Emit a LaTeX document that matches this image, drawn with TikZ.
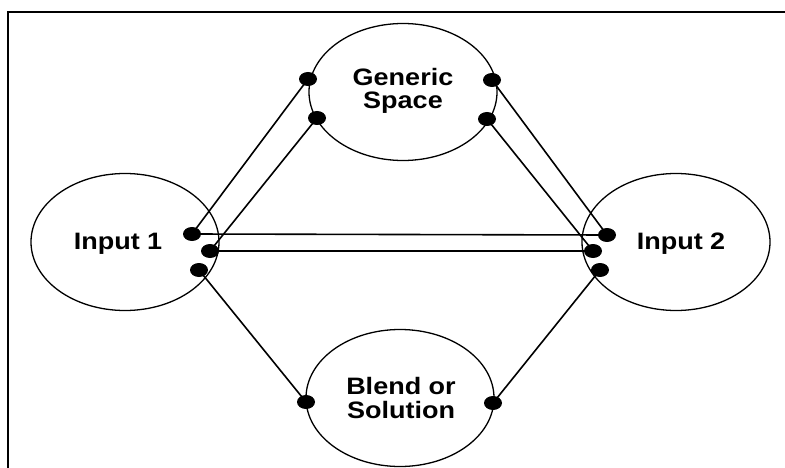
\documentclass[tikz,border=0pt]{standalone}
\usepackage{fontspec}
\setmainfont{Liberation Sans}
\usetikzlibrary{shapes.geometric}
\newcommand{\blocktext}[1]{\scalebox{1}[0.88]{\begin{tabular}{@{}c@{}}#1\end{tabular}}}
\tikzset{
  space/.style={ellipse, draw, line width=1.3pt, inner sep=0pt,
                minimum width=188pt, minimum height=137pt},
  caption/.style={inner sep=0pt, font=\fontsize{27}{24}\selectfont\bfseries},
  port/.style={ellipse, fill=black, inner sep=0pt,
               minimum width=18pt, minimum height=14pt},
  link/.style={line width=1.6pt},
  frame/.style={line width=2.2pt}
}
\begin{document}
\begin{tikzpicture}[x=1pt, y=-1pt]
  \useasboundingbox (0,0) rectangle (785,468);
  \fill[white] (0,0) rectangle (785,468);

  % outer frame (open to the right and bottom)
  \coordinate (fb) at (8,470);
  \coordinate (fc) at (8,12);
  \coordinate (fr) at (787,12);
  \draw[frame] (fb) -- (fc) -- (fr);

  % the four mental spaces
  \node[space] (gen) at (403,92) {};
  \node[space] (in1) at (125,242) {};
  \node[space] (in2) at (676,242) {};
  \node[space] (bld) at (400,398) {};

  \node[caption] (genT) at (403,92) {\blocktext{Generic\\Space}};
  \node[caption] (in1T) at (118,244.4) {\blocktext{Input 1}};
  \node[caption] (in2T) at (681,244.4) {\blocktext{Input 2}};
  \node[caption] (bldT) at (401,401) {\blocktext{Blend or\\Solution}};

  % connection ports
  \node[port] (g1) at (308,79) {};
  \node[port] (g2) at (317,118) {};
  \node[port] (g3) at (492,80) {};
  \node[port] (g4) at (487,119) {};
  \node[port] (a1) at (192,234) {};
  \node[port] (a2) at (210,251) {};
  \node[port] (a3) at (199,270) {};
  \node[port] (b1) at (607,235) {};
  \node[port] (b2) at (593,251) {};
  \node[port] (b3) at (600,270) {};
  \node[port] (s1) at (306,402) {};
  \node[port] (s2) at (493,403) {};

  % cross-space mappings
  \draw[link] (a1.center) -- (g1.center);
  \draw[link] (a2.center) -- (g2.center);
  \draw[link] (g3.center) -- (b1.center);
  \draw[link] (g4.center) -- (b2.center);
  \draw[link] (a1.center) -- (b1.center);
  \draw[link] (a2.center) -- (b2.center);
  \draw[link] (a3.center) -- (s1.center);
  \draw[link] (b3.center) -- (s2.center);
\end{tikzpicture}
\end{document}
